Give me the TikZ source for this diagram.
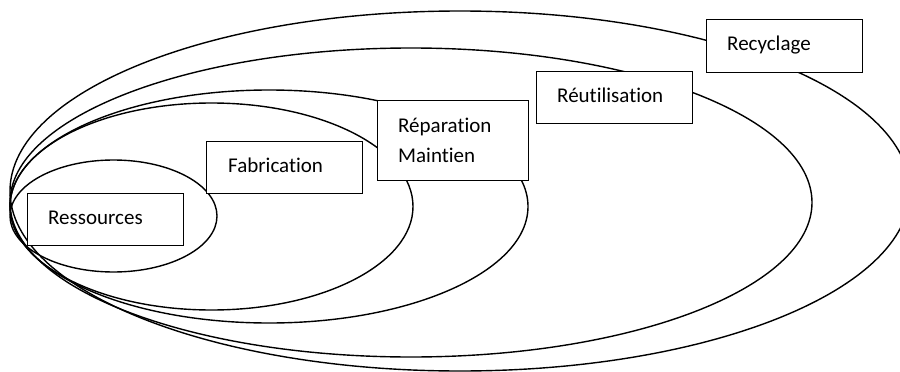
\documentclass[tikz,border=0pt]{standalone}
\usepackage{fontspec}
\setmainfont{Carlito}[Ligatures={NoCommon,NoContextual}]
\begin{document}
\begin{tikzpicture}[x=1pt,y=-1pt,
  ring/.style={line width=1.4pt},
  box/.style={draw, line width=1.4pt, fill=white, inner sep=0pt, anchor=north west},
  lbl/.style={anchor=base west, inner sep=0pt, font=\fontsize{21}{26}\selectfont}]
\useasboundingbox (0,0) rectangle (900,372);
\clip (0,0) rectangle (900,372);
% nested ellipses
\draw[ring] (460,191) ellipse [x radius=450, y radius=180];
\draw[ring] (411,202.5) ellipse [x radius=401, y radius=154.5];
\draw[ring] (269,206.5) ellipse [x radius=259, y radius=116.5];
\draw[ring] (211.5,206.5) ellipse [x radius=201.5, y radius=103.5];
\draw[ring] (113.5,216) ellipse [x radius=103.5, y radius=56];
% boxes
\node[box, minimum width=156pt, minimum height=52pt] (res) at (27,193) {};
\node[lbl] (rest) at (48,224) {Ressources};
\node[box, minimum width=156pt, minimum height=52pt] (fab) at (206,141) {};
\node[lbl] (fabt) at (228,172) {Fabrication};
\node[box, minimum width=151pt, minimum height=80pt] (rep) at (377,100) {};
\node[lbl] (rept1) at (398,132) {Réparation};
\node[lbl] (rept2) at (398,162) {Maintien};
\node[box, minimum width=156pt, minimum height=52pt] (reu) at (536,71) {};
\node[lbl] (reut) at (557,102) {Réutilisation};
\node[box, minimum width=156pt, minimum height=53pt] (rec) at (706,19) {};
\node[lbl] (rect) at (727,50) {Recyclage};
\end{tikzpicture}
\end{document}
